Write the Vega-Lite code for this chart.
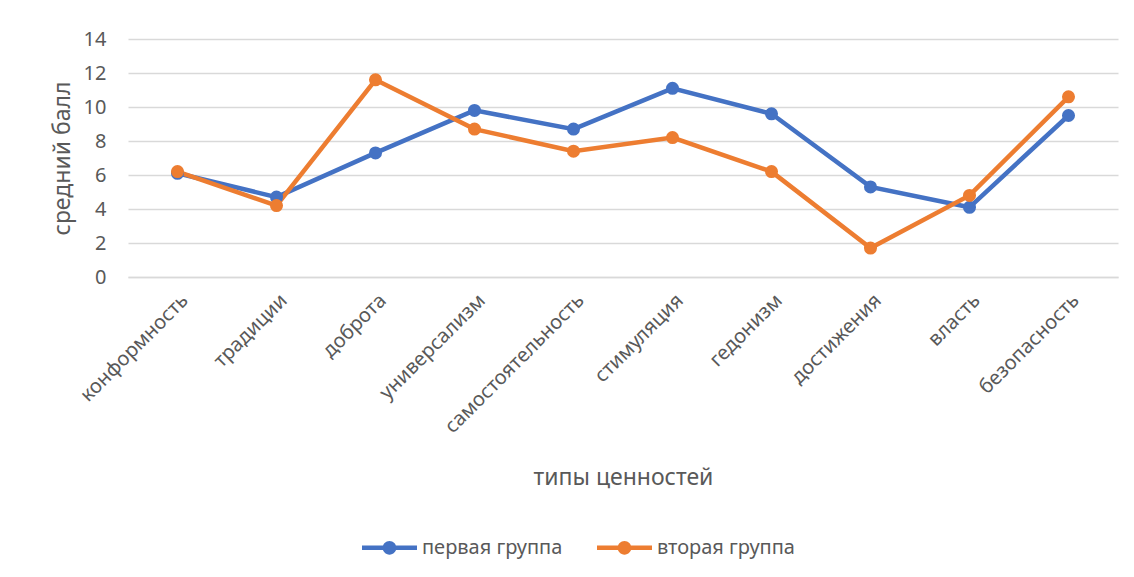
{
  "$schema": "https://vega.github.io/schema/vega-lite/v6.json",
  "autosize": {"type": "none"},
  "width": 990,
  "height": 238,
  "padding": {"left": 128, "top": 39, "right": 16, "bottom": 300},
  "background": "white",
  "data": {
    "values": [
      {"category": "конформность", "group": "первая группа", "value": 6.1},
      {"category": "традиции", "group": "первая группа", "value": 4.7},
      {"category": "доброта", "group": "первая группа", "value": 7.3},
      {"category": "универсализм", "group": "первая группа", "value": 9.8},
      {"category": "самостоятельность", "group": "первая группа", "value": 8.7},
      {"category": "стимуляция", "group": "первая группа", "value": 11.1},
      {"category": "гедонизм", "group": "первая группа", "value": 9.6},
      {"category": "достижения", "group": "первая группа", "value": 5.3},
      {"category": "власть", "group": "первая группа", "value": 4.1},
      {"category": "безопасность", "group": "первая группа", "value": 9.5},
      {"category": "конформность", "group": "вторая группа", "value": 6.2},
      {"category": "традиции", "group": "вторая группа", "value": 4.2},
      {"category": "доброта", "group": "вторая группа", "value": 11.6},
      {"category": "универсализм", "group": "вторая группа", "value": 8.7},
      {"category": "самостоятельность", "group": "вторая группа", "value": 7.4},
      {"category": "стимуляция", "group": "вторая группа", "value": 8.2},
      {"category": "гедонизм", "group": "вторая группа", "value": 6.2},
      {"category": "достижения", "group": "вторая группа", "value": 1.7},
      {"category": "власть", "group": "вторая группа", "value": 4.8},
      {"category": "безопасность", "group": "вторая группа", "value": 10.6}
    ]
  },
  "config": {
    "font": "Noto Sans",
    "view": {"stroke": null},
    "axis": {"labelColor": "#595959", "titleColor": "#595959", "titleFontWeight": "normal"}
  },
  "mark": {"type": "line", "strokeWidth": 4.5, "point": {"filled": true, "size": 170}},
  "encoding": {
    "x": {
      "field": "category",
      "type": "nominal",
      "sort": ["конформность", "традиции", "доброта", "универсализм", "самостоятельность", "стимуляция", "гедонизм", "достижения", "власть", "безопасность"],
      "scale": {"type": "point", "padding": 0.5},
      "axis": {
        "title": "типы ценностей",
        "titleFontSize": 23,
        "titleX": 495,
        "titleY": 200,
        "titleBaseline": "middle",
        "labelAngle": -45,
        "labelFontSize": 20,
        "labelPadding": 13,
        "labelLimit": 400,
        "ticks": false,
        "domainColor": "#D9D9D9",
        "domainWidth": 1.5,
        "grid": false
      }
    },
    "y": {
      "field": "value",
      "type": "quantitative",
      "scale": {"domain": [0, 14]},
      "axis": {
        "title": "средний балл",
        "titleFontSize": 23,
        "titleX": -66,
        "titleY": 119,
        "titleAlign": "center",
        "titleBaseline": "middle",
        "values": [0, 2, 4, 6, 8, 10, 12, 14],
        "labelFontSize": 20,
        "labelPadding": 22,
        "ticks": false,
        "domain": false,
        "gridColor": "#D9D9D9",
        "gridWidth": 1.5
      }
    },
    "color": {
      "field": "group",
      "type": "nominal",
      "sort": ["первая группа", "вторая группа"],
      "scale": {"range": ["#4472C4", "#ED7D31"]},
      "legend": {
        "title": null,
        "orient": "none",
        "direction": "horizontal",
        "legendX": 234,
        "legendY": 481,
        "labelFontSize": 20,
        "labelColor": "#595959",
        "labelOffset": 5,
        "columnPadding": 34,
        "symbolType": "M-1,-0.08L1,-0.08L1,0.08L-1,0.08Z M-0.25,0 A0.25,0.25 0 1,1 0.25,0 A0.25,0.25 0 1,1 -0.25,0 Z",
        "symbolSize": 3025,
        "symbolStrokeWidth": 0,
        "encode": {"symbols": {"update": {"fill": {"scale": "color", "field": "value"}, "fillOpacity": {"value": 1}}}}
      }
    }
  }
}
